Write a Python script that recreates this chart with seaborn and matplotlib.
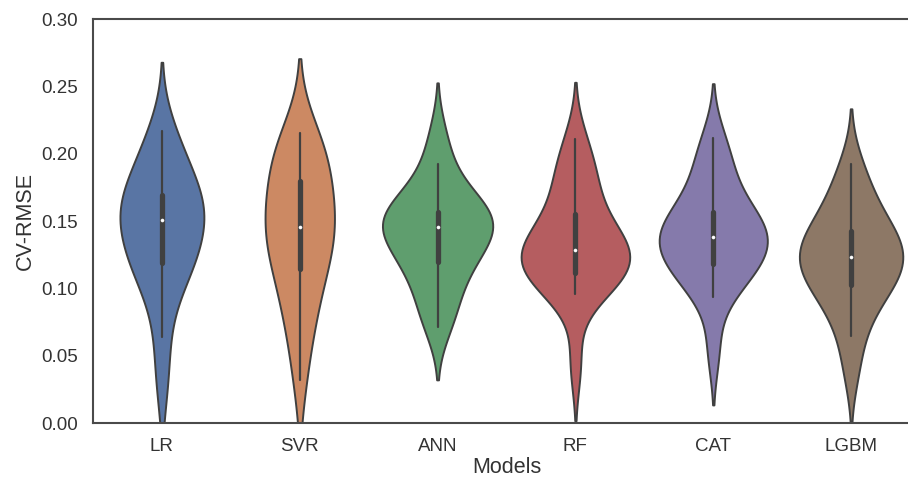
import numpy as np
import pandas as pd
import matplotlib
matplotlib.use("Agg")
import matplotlib.pyplot as plt
import seaborn as sns

models = ["LR", "SVR", "ANN", "RF", "CAT", "LGBM"]

lr_scores = [0.030, 0.064, 0.095, 0.108, 0.116, 0.1195, 0.126, 0.133, 0.140, 0.147,
             0.154, 0.158, 0.162, 0.165, 0.168, 0.173, 0.185, 0.195, 0.205, 0.217]
svr_scores = [0.032, 0.062, 0.080, 0.090, 0.1045, 0.1173, 0.124, 0.130, 0.136, 0.142,
              0.1496, 0.156, 0.162, 0.169, 0.176, 0.190, 0.196, 0.202, 0.208, 0.215]
ann_scores = [0.0711, 0.082, 0.094, 0.106, 0.117, 0.1205, 0.126, 0.132, 0.138, 0.143,
              0.1486, 0.150, 0.152, 0.1535, 0.1553, 0.160, 0.168, 0.178, 0.192, 0.2135]
rf_scores = [0.044, 0.0958, 0.101, 0.1055, 0.1095, 0.1125, 0.117, 0.121, 0.1245, 0.127,
             0.130, 0.133, 0.137, 0.143, 0.152, 0.164, 0.174, 0.184, 0.195, 0.2107]
cat_scores = [0.054, 0.0933, 0.103, 0.110, 0.1165, 0.1187, 0.124, 0.129, 0.133, 0.137,
              0.1398, 0.143, 0.147, 0.151, 0.155, 0.1626, 0.174, 0.186, 0.198, 0.2114]
lgbm_scores = [0.039, 0.0646, 0.080, 0.091, 0.0995, 0.1035, 0.108, 0.113, 0.117, 0.121,
               0.126, 0.129, 0.133, 0.137, 0.141, 0.148, 0.156, 0.165, 0.177, 0.1923]

series = [lr_scores, svr_scores, ann_scores, rf_scores, cat_scores, lgbm_scores]
df = pd.DataFrame({
    "Models": np.repeat(models, [len(s) for s in series]),
    "CV-RMSE": np.concatenate(series),
})

sns.set_theme(style="white")
plt.rcParams["font.family"] = ["Liberation Sans", "DejaVu Sans"]

fig = plt.figure(figsize=(9.08, 4.79), dpi=100)
ax = fig.add_axes([93 / 908, 56 / 479, 827 / 908, 404 / 479])

sns.violinplot(
    data=df, x="Models", y="CV-RMSE", hue="Models", palette="deep",
    legend=False, inner="box", linewidth=1.4, linecolor="#404040",
    inner_kws=dict(box_width=3.8, whis_width=1.6, color="#404040", marker="o"),
    width=0.8, density_norm="area", common_norm=True, ax=ax,
)

# smaller white median dots
for ln in ax.lines:
    if ln.get_marker() == "o":
        ln.set_markersize(2.2)
        ln.set_markeredgewidth(0.4)
        ln.set_markerfacecolor("white")
        ln.set_markeredgecolor("white")

ax.set_ylim(0, 0.30)
ax.set_xlim(-0.5, 5.5)
ax.set_yticks(np.arange(0, 0.301, 0.05))
ax.set_yticklabels([f"{v:.2f}" for v in np.arange(0, 0.301, 0.05)])
ax.tick_params(axis="both", labelsize=13.5, colors="#333333", pad=5)
ax.set_xlabel("Models", fontsize=15.5, color="#333333", labelpad=1)
ax.set_ylabel("CV-RMSE", fontsize=15.5, color="#333333", labelpad=4)
for sp in ax.spines.values():
    sp.set_visible(True)
    sp.set_color("#4a4a4a")
    sp.set_linewidth(1.5)

fig.savefig("out.png", dpi=100)
